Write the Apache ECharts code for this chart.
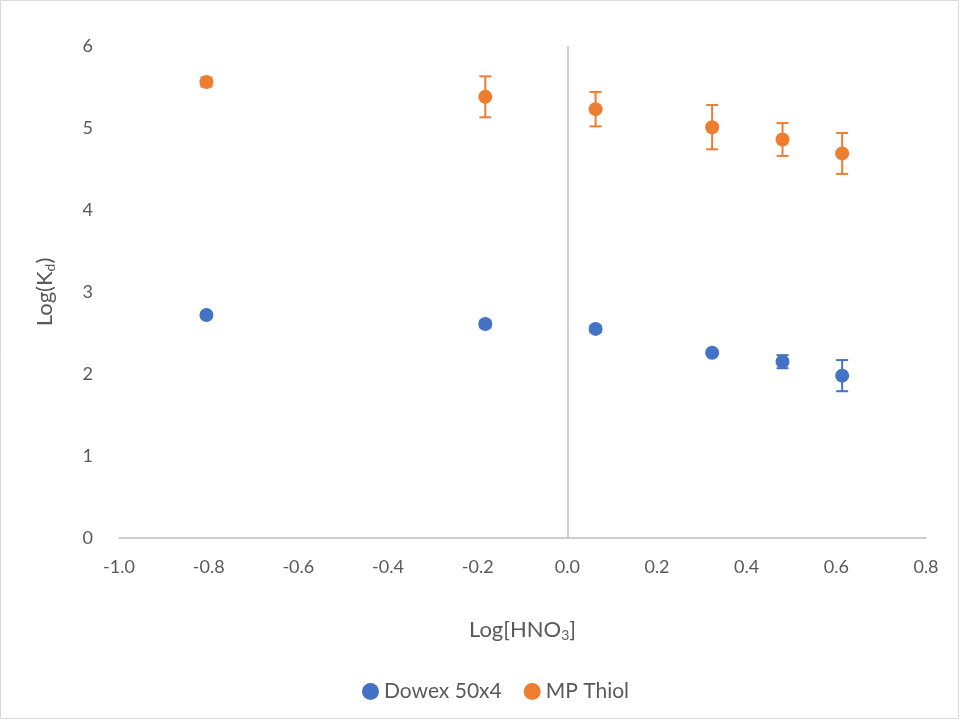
<!DOCTYPE html>
<html>
<head>
<meta charset="utf-8">
<script src="https://cdn.jsdelivr.net/npm/echarts@6/dist/echarts.min.js"></script>
<style>html,body{margin:0;padding:0;background:#fff;}#c{width:960px;height:727px;}</style>
</head>
<body>
<div id="c"></div>
<script>
const logHNO3 = [-0.805, -0.183, 0.063, 0.323, 0.480, 0.613];
const dowex = [2.72, 2.61, 2.55, 2.26, 2.15, 1.98];
const dowexErr = [0.02, 0.04, 0.04, 0.02, 0.08, 0.19];
const thiol = [5.56, 5.38, 5.23, 5.01, 4.86, 4.69];
const thiolErr = [0.055, 0.25, 0.21, 0.27, 0.20, 0.25];
const xTicks = [-1.0, -0.8, -0.6, -0.4, -0.2, 0.0, 0.2, 0.4, 0.6, 0.8];
const yTicks = [0, 1, 2, 3, 4, 5, 6];

const BLUE = '#4472C4', ORANGE = '#ED7D31';
const FONT = 'Lato';

function pts(ys) { return logHNO3.map((x, i) => [x, ys[i]]); }
function errs(ys, es) { return logHNO3.map((x, i) => [x, ys[i] - es[i], ys[i] + es[i]]); }

function errRender(color) {
  return function (params, api) {
    const x = api.value(0);
    const lo = api.coord([x, api.value(1)]);
    const hi = api.coord([x, api.value(2)]);
    const hw = 6;
    const style = { stroke: color, lineWidth: 2 };
    return {
      type: 'group',
      children: [
        { type: 'line', shape: { x1: lo[0], y1: lo[1], x2: hi[0], y2: hi[1] }, style },
        { type: 'line', shape: { x1: lo[0] - hw, y1: lo[1], x2: lo[0] + hw, y2: lo[1] }, style },
        { type: 'line', shape: { x1: hi[0] - hw, y1: hi[1], x2: hi[0] + hw, y2: hi[1] }, style }
      ]
    };
  };
}

const subRich = { sub: { fontSize: 14, verticalAlign: 'bottom', padding: [10, 0, 0, 0], color: '#595959', fontFamily: FONT } };

const chart = echarts.init(document.getElementById('c'));
chart.setOption({
  animation: false,
  textStyle: { fontFamily: FONT },
  graphic: [{
    type: 'rect', shape: { x: 0.5, y: 0.5, width: 958, height: 718 },
    style: { fill: 'none', stroke: '#d9d9d9', lineWidth: 1 }, silent: true
  }],
  grid: { left: 119, right: 34, top: 46, bottom: 189, containLabel: false },
  xAxis: {
    type: 'value', min: -1.0, max: 0.8, interval: 0.2,
    name: 'Log[HNO{sub|3}]', nameLocation: 'middle', nameGap: 80,
    nameTextStyle: { color: '#595959', fontSize: 22, fontFamily: FONT, rich: subRich },
    axisLine: { show: true, onZero: false, lineStyle: { color: '#bfbfbf', width: 1.5 } },
    axisTick: { show: false },
    splitLine: { show: false },
    axisLabel: {
      color: '#595959', fontSize: 18, margin: 20, fontFamily: FONT,
      formatter: v => v.toFixed(1)
    }
  },
  yAxis: {
    type: 'value', min: 0, max: 6, interval: 1,
    name: 'Log(K{sub|d})', nameLocation: 'middle', nameGap: 62, nameRotate: 90,
    nameTextStyle: { color: '#595959', fontSize: 22, fontFamily: FONT, rich: subRich },
    axisLine: { show: false },
    axisTick: { show: false },
    splitLine: { show: false },
    axisLabel: { color: '#595959', fontSize: 18, margin: 26, fontFamily: FONT }
  },
  legend: {
    bottom: 20, left: 357, itemGap: 22, itemWidth: 17, itemHeight: 17,
    data: [{ name: 'Dowex 50x4', icon: 'circle' }, { name: 'MP Thiol', icon: 'circle' }],
    textStyle: { color: '#595959', fontSize: 21, fontFamily: FONT }
  },
  series: [
    {
      name: 'Dowex 50x4', type: 'scatter', data: pts(dowex), symbol: 'circle', symbolSize: 14,
      itemStyle: { color: BLUE, opacity: 1 }, z: 5,
      markLine: {
        silent: true, symbol: 'none', label: { show: false },
        lineStyle: { color: '#bfbfbf', width: 1.5, type: 'solid' },
        data: [{ xAxis: 0 }]
      }
    },
    {
      name: 'MP Thiol', type: 'scatter', data: pts(thiol), symbol: 'circle', symbolSize: 14,
      itemStyle: { color: ORANGE, opacity: 1 }, z: 5
    },
    { name: 'errDowex', type: 'custom', data: errs(dowex, dowexErr), renderItem: errRender(BLUE), z: 4, silent: true },
    { name: 'errThiol', type: 'custom', data: errs(thiol, thiolErr), renderItem: errRender(ORANGE), z: 4, silent: true }
  ]
});
</script>
</body>
</html>
